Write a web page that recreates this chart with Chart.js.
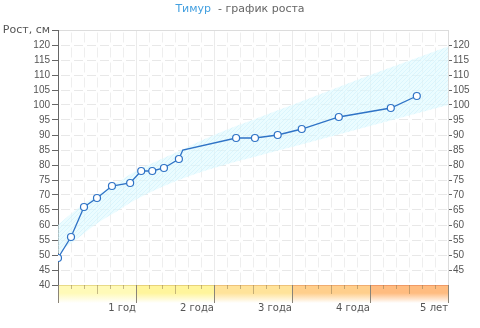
<!DOCTYPE html>
<html>
<head>
<meta charset="utf-8">
<script src="https://cdn.jsdelivr.net/npm/chart.js@4"></script>
<style>
  html, body { margin: 0; padding: 0; background: #fff; }
  #wrap { position: relative; width: 480px; height: 328px; }
  #title { position: absolute; top: 1px; left: 0; width: 480px; text-align: center;
    font: 11px "DejaVu Sans", sans-serif; line-height: 16px; color: #666; }
  #title span { color: #44a0e0; }
</style>
</head>
<body>
<div id="wrap">
  <canvas id="growth" width="480" height="328"></canvas>
  <div id="title"><span>Тимур</span>&nbsp; - график роста</div>
</div>
<script>
// measurements: age in months, height in cm
const ages = [0, 2, 4, 6, 8.3, 11.1, 12.8, 14.5, 16.3, 18.6, 19.2, 27.4, 30.3, 33.8, 37.5, 43.2, 51.2, 55.2];
const heights = [49, 56, 66, 69, 73, 74, 78, 78, 79, 82, 85, 89, 89, 90, 92, 96, 99, 103];
const hasMarker = [1, 1, 1, 1, 1, 1, 1, 1, 1, 1, 0, 1, 1, 1, 1, 1, 1, 1];

// norm corridor
const normMonths = [0, 3, 6, 9, 12, 18, 24, 36, 48, 60];
const normHigh = [60, 65.5, 70, 74, 78, 84, 90, 100, 110, 119.5];
const normLow = [50.5, 55.5, 60.5, 64.5, 68.5, 74.5, 79, 86, 93, 100];

const yearLabels = ['1 год', '2 года', '3 года', '4 года', '5 лет'];
const bandColors = ['#fffab8', '#fff59c', '#ffe39a', '#ffcf8c', '#ffbc80'];
const bandEdge = ['#e8da88', '#e8d27a', '#eec27a', '#f0ac70', '#f09a66'];

const toXY = (xs, ys) => xs.map((x, i) => ({ x: x, y: ys[i] }));

// hatched fill for the corridor
const pc = document.createElement('canvas');
pc.width = 4; pc.height = 4;
const p = pc.getContext('2d');
p.fillStyle = 'rgba(222,250,255,0.6)';
p.fillRect(0, 0, 4, 4);
p.strokeStyle = 'rgba(198,238,250,0.45)';
p.lineWidth = 1;
p.beginPath(); p.moveTo(0, 4); p.lineTo(4, 0); p.stroke();
const hatch = p.createPattern(pc, 'repeat');

// coloured age band under the plot
const ageBand = {
  id: 'ageBand',
  afterDraw(chart) {
    const { ctx, scales: { x } } = chart;
    const top = chart.chartArea.bottom, h = 18;
    ctx.save();
    for (let i = 0; i < 5; i++) {
      const x0 = x.getPixelForValue(i * 12), x1 = x.getPixelForValue((i + 1) * 12);
      const g = ctx.createLinearGradient(0, top, 0, top + h);
      g.addColorStop(0, bandColors[i]);
      g.addColorStop(0.45, bandColors[i]);
      g.addColorStop(1, '#ffffff');
      ctx.fillStyle = g;
      ctx.fillRect(x0, top, x1 - x0, h);
      ctx.strokeStyle = bandEdge[i];
      ctx.beginPath(); ctx.moveTo(x0, top + 0.5); ctx.lineTo(x1, top + 0.5); ctx.stroke();
    }
    for (let m = 0; m <= 60; m += 2) {
      const px = Math.round(x.getPixelForValue(m)) + 0.5;
      const len = m % 12 === 0 ? h : (m % 6 === 0 ? 9 : 4);
      ctx.strokeStyle = m % 12 === 0 ? '#8a8478' : 'rgba(140,120,80,0.5)';
      ctx.beginPath(); ctx.moveTo(px, top); ctx.lineTo(px, top + len); ctx.stroke();
    }
    ctx.restore();
  }
};

new Chart(document.getElementById('growth'), {
  type: 'line',
  data: {
    datasets: [{
      data: toXY(ages, heights),
      borderColor: '#2f73c6',
      borderWidth: 1.3,
      pointRadius: c => hasMarker[c.dataIndex] ? 3.5 : 0,
      pointBackgroundColor: '#fff',
      pointBorderColor: '#2f73c6',
      pointBorderWidth: 1.2,
      tension: 0
    }, {
      data: toXY(normMonths, normHigh),
      borderWidth: 0,
      pointRadius: 0,
      backgroundColor: hatch,
      fill: '+1',
      cubicInterpolationMode: 'monotone'
    }, {
      data: toXY(normMonths, normLow),
      borderWidth: 0,
      pointRadius: 0,
      fill: false,
      cubicInterpolationMode: 'monotone'
    }]
  },
  options: {
    responsive: false,
    animation: false,
    layout: { padding: { top: 30, left: 0, right: 0, bottom: 0 } },
    plugins: { legend: { display: false }, tooltip: { enabled: false } },
    scales: {
      x: {
        type: 'linear', min: 0, max: 60,
        afterFit: s => { s.height = 43; },
        ticks: {
          stepSize: 2, autoSkip: false, maxRotation: 0, align: 'end', padding: 17,
          color: '#555', font: { family: 'DejaVu Sans', size: 10 },
          callback: v => (v > 0 && v % 12 === 0) ? yearLabels[v / 12 - 1] : ''
        },
        grid: {
          drawTicks: false,
          color: c => c.tick && c.tick.value % 12 === 0 ? '#ebebeb' : '#eeeeee'
        },
        border: {
          display: false,
          dash: c => (c.tick && c.tick.value % 12 !== 0) ? [10, 5] : [],
          dashOffset: 12.5
        }
      },
      y: {
        min: 40, max: 125,
        afterFit: s => { s.width = 58; },
        ticks: {
          stepSize: 5, autoSkip: false, padding: 2, color: '#555',
          font: c => c.tick && c.tick.value === 125
            ? { family: 'DejaVu Sans', size: 11 }
            : { family: 'Liberation Sans', size: 10 },
          callback: v => v === 125 ? 'Рост, см' : v
        },
        grid: {
          tickLength: 6,
          tickColor: '#666',
          color: c => c.tick && c.tick.value === 125 ? '#dcdcdc' : '#e8e8e8'
        },
        border: {
          color: '#666', width: 1,
          dash: c => (c.tick && c.tick.value !== 125) ? [9, 4] : [],
          dashOffset: 11
        }
      },
      y2: {
        position: 'right', min: 40, max: 125,
        afterFit: s => { s.width = 32; },
        ticks: {
          stepSize: 5, autoSkip: false, padding: 1, color: '#555',
          font: { family: 'Liberation Sans', size: 10 },
          callback: v => (v === 40 || v === 125) ? '' : v
        },
        grid: {
          drawOnChartArea: false, tickLength: 4,
          tickColor: c => c.tick && (c.tick.value === 40 || c.tick.value === 125) ? 'rgba(0,0,0,0)' : '#666'
        },
        border: { color: '#dcdcdc', width: 1 }
      }
    }
  },
  plugins: [ageBand]
});
</script>
</body>
</html>
